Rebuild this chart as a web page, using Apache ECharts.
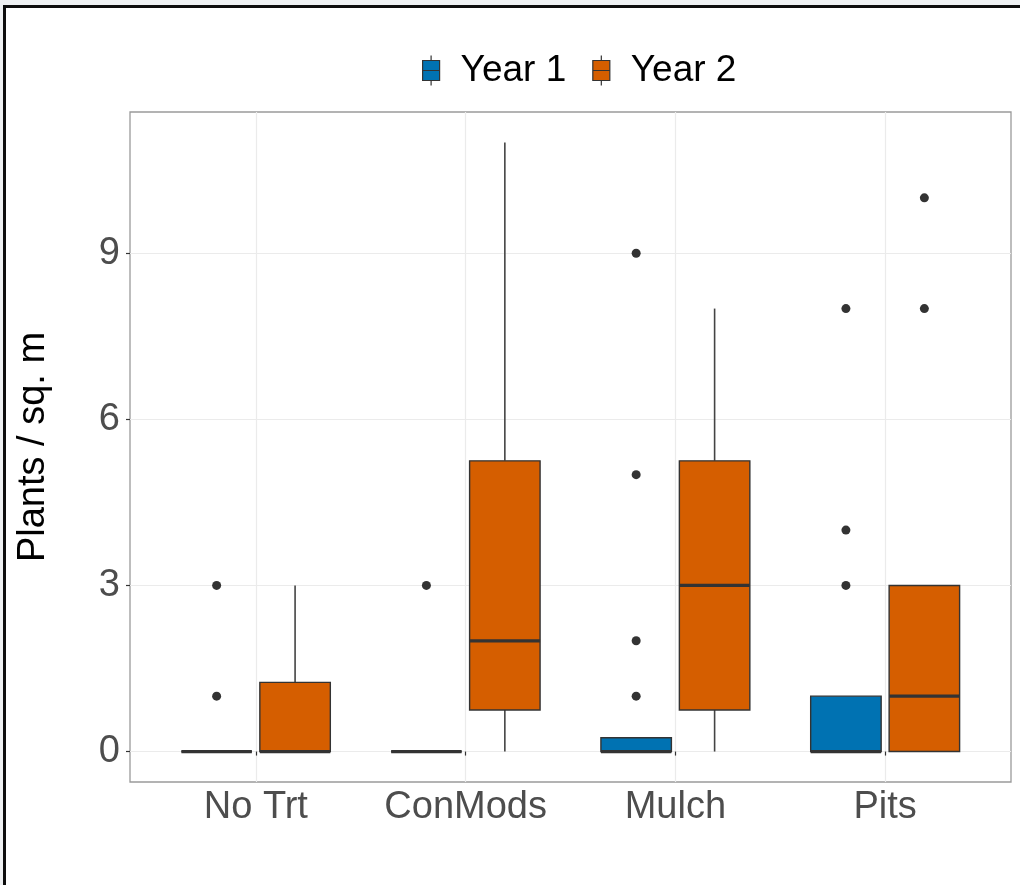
<!DOCTYPE html>
<html>
<head>
<meta charset="utf-8">
<script src="https://cdn.jsdelivr.net/npm/echarts@6/dist/echarts.min.js"></script>
<style>
  html, body { margin: 0; padding: 0; width: 1020px; height: 885px; overflow: hidden; background: #eef0f2; }
  #frame { position: absolute; left: 3px; top: 5px; width: 1100px; height: 1000px;
           border-left: 3px solid #0d0d0d; border-top: 3px solid #0d0d0d; background: #fff; }
  #chart { position: absolute; left: 0; top: 0; width: 1020px; height: 885px; }
</style>
</head>
<body>
<div id="frame"></div>
<div id="chart"></div>
<script>
// Treatments on the x axis
const categories = ['No Trt', 'ConMods', 'Mulch', 'Pits'];
const seriesNames = ['Year 1', 'Year 2'];
// Box summaries per treatment: [lower whisker, Q1, median, Q3, upper whisker]
const year1Box = [[0, 0, 0, 0, 0], [0, 0, 0, 0, 0], [0, 0, 0, 0.25, 0.25], [0, 0, 0, 1, 1]];
const year2Box = [[0, 0, 0, 1.25, 3], [0, 0.75, 2, 5.25, 11], [0, 0.75, 3, 5.25, 8], [0, 0, 1, 3, 3]];
// Outlying observations per treatment
const year1Outliers = [[3, 1], [3], [9, 5, 2, 1], [8, 4, 3]];
const year2Outliers = [[], [], [], [10, 8]];
// Tick positions
const yTicks = [0, 3, 6, 9];
const xTicks = [1, 2, 3, 4];

const colors = ['#0072B2', '#D55E00'];
const DODGE = 0.187;   // side-by-side offset of the two years, in category units
const HALF_W = 0.168;  // half box width, in category units
const FONT = "'Liberation Sans', Arial, sans-serif";

function boxData(summaries, offset) {
  return summaries.map((s, i) => [i + 1 + offset].concat(s));
}
function outlierData(lists, offset) {
  const out = [];
  lists.forEach((vals, i) => vals.forEach(v => out.push([i + 1 + offset, v])));
  return out;
}

function renderBox(params, api) {
  const x = api.value(0);
  const lo = api.value(1), q1 = api.value(2), med = api.value(3), q3 = api.value(4), hi = api.value(5);
  const pLo = api.coord([x, lo]), pQ1 = api.coord([x, q1]);
  const pQ3 = api.coord([x, q3]), pHi = api.coord([x, hi]);
  const tl = api.coord([x - HALF_W, q3]), br = api.coord([x + HALF_W, q1]);
  const mL = api.coord([x - HALF_W, med]), mR = api.coord([x + HALF_W, med]);
  const whisker = { stroke: '#444444', lineWidth: 1.6 };
  return {
    type: 'group',
    children: [
      { type: 'line', shape: { x1: pQ3[0], y1: pQ3[1], x2: pHi[0], y2: pHi[1] }, style: whisker },
      { type: 'line', shape: { x1: pLo[0], y1: pLo[1], x2: pQ1[0], y2: pQ1[1] }, style: whisker },
      { type: 'rect', shape: { x: tl[0], y: tl[1], width: br[0] - tl[0], height: br[1] - tl[1] },
        style: { fill: api.visual('color'), stroke: '#333333', lineWidth: 1.4 } },
      { type: 'line', shape: { x1: mL[0], y1: mL[1], x2: mR[0], y2: mR[1] },
        style: { stroke: '#333333', lineWidth: 3.2 } }
    ]
  };
}

function boxSeries(name, summaries, offset, color) {
  return {
    name: name,
    type: 'custom',
    renderItem: renderBox,
    itemStyle: { color: color },
    encode: { x: 0, y: [1, 2, 3, 4, 5] },
    data: boxData(summaries, offset),
    z: 3
  };
}
function pointSeries(name, lists, offset) {
  return {
    name: name,
    type: 'scatter',
    symbol: 'circle',
    symbolSize: 9,
    itemStyle: { color: '#333333', opacity: 1 },
    data: outlierData(lists, offset),
    z: 2
  };
}

const chart = echarts.init(document.getElementById('chart'), null, { renderer: 'canvas' });
chart.setOption({
  animation: false,
  backgroundColor: 'transparent',
  textStyle: { fontFamily: FONT },
  legend: {
    data: seriesNames,
    left: 417,
    top: 47,
    itemWidth: 17,
    itemHeight: 30,
    itemGap: 26,
    icon: 'path://M8.5,0L8.5,5M0,5L17,5L17,15L0,15ZM0,15L17,15L17,25L0,25ZM8.5,25L8.5,30',
    itemStyle: { borderColor: '#333333', borderWidth: 1.2 },
    textStyle: { fontSize: 37, color: '#000', fontFamily: FONT, padding: [0, 0, 0, 16] },
    selectedMode: false
  },
  grid: {
    left: 130, top: 112, width: 881, height: 670,
    show: true, borderColor: '#9a9a9a', borderWidth: 1.3, backgroundColor: '#fff'
  },
  xAxis: {
    type: 'value',
    min: 0.4, max: 4.6,
    axisLine: { show: false },
    axisTick: { show: true, customValues: xTicks, length: 4, lineStyle: { color: '#333', width: 1.2 } },
    axisLabel: {
      show: true, customValues: xTicks, fontSize: 38, color: '#4d4d4d', margin: 7, fontFamily: FONT,
      formatter: v => categories[Math.round(v) - 1] || ''
    },
    splitLine: { show: true, lineStyle: { color: '#ebebeb', width: 1.2 } }
  },
  yAxis: {
    type: 'value',
    min: -0.55, max: 11.55,
    name: 'Plants / sq. m',
    nameLocation: 'middle',
    nameRotate: 90,
    nameGap: 77,
    nameTextStyle: { fontSize: 38, color: '#000', fontFamily: FONT },
    axisLine: { show: false },
    axisTick: { show: true, customValues: yTicks, length: 4, lineStyle: { color: '#333', width: 1.2 } },
    axisLabel: { show: true, customValues: yTicks, fontSize: 38, color: '#4d4d4d', margin: 10, fontFamily: FONT },
    splitLine: { show: true, lineStyle: { color: '#ebebeb', width: 1.2 } }
  },
  series: [
    boxSeries(seriesNames[0], year1Box, -DODGE, colors[0]),
    boxSeries(seriesNames[1], year2Box, DODGE, colors[1]),
    pointSeries('Year 1 outliers', year1Outliers, -DODGE),
    pointSeries('Year 2 outliers', year2Outliers, DODGE)
  ]
});
</script>
</body>
</html>
